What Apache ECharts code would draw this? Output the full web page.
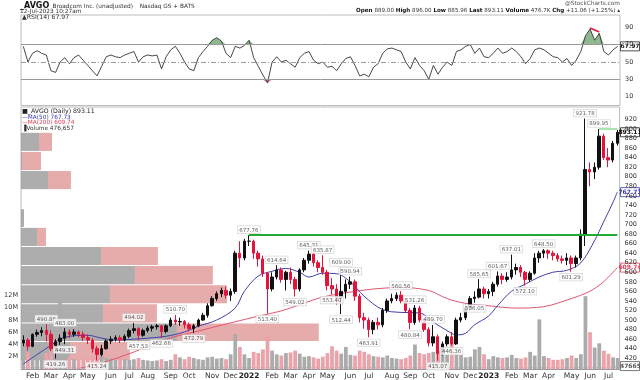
<!DOCTYPE html>
<html>
<head>
<meta charset="utf-8">
<script src="https://cdn.jsdelivr.net/npm/echarts@6/dist/echarts.min.js"></script>
<style>
html,body{margin:0;padding:0;background:#fff;}
#chart{width:640px;height:380px;}
</style>
</head>
<body>
<div id="chart"></div>
<script>
// ================= DATA =================
// Weekly categories (Mondays) 2021-01-18 .. 2023-07-10
const weekCount = 130;
const weeks = [];
for (let i = 0; i < weekCount; i++) {
  weeks.push(new Date(Date.UTC(2021, 0, 18 + 7 * i)).toISOString().slice(0, 10));
}
const monthNames = ['Jan','Feb','Mar','Apr','May','Jun','Jul','Aug','Sep','Oct','Nov','Dec'];

const opens = [
  452,458,445,470,474,478,470,440,455,462,475,470,475,470,463,458,440,428,440,456,
  460,463,458,466,478,482,468,478,483,486,488,476,488,500,496,497,490,482,488,500,
  510,530,545,555,562,552,560,640,630,665,
  665,640,628,598,565,590,605,585,600,585,565,605,625,638,620,610,600,572,565,545,
  560,575,580,550,505,500,480,495,490,520,540,545,552,540,520,495,525,500,480,452,
  465,430,450,465,450,500,505,525,545,548,565,555,
  560,575,592,585,590,605,610,600,585,598,630,640,645,640,635,628,625,630,618,630,
  680,815,810,820,885,840,835,870
];
const closes = [
  458,445,470,474,478,470,440,455,462,475,470,475,470,463,458,440,428,440,456,460,
  463,458,466,478,482,468,478,483,486,488,476,488,500,496,497,490,482,488,500,510,
  530,545,555,562,552,560,640,630,665,665,
  640,628,598,565,590,605,585,600,585,565,605,625,638,620,610,600,572,565,545,560,
  575,580,550,505,500,480,495,490,520,540,545,552,540,520,495,525,500,480,452,465,
  430,450,465,450,500,505,525,545,548,565,555,560,
  575,592,585,590,605,610,600,585,598,630,640,645,640,635,628,625,630,618,630,680,
  815,810,820,885,840,835,870,893.11
];
const lows = [
  445,436,443,465,466,455,435,419.26,448,449.31,462,465,464,456,450,432,415.24,424,438,450,
  455,452,455,462,472,457.53,465,474,476,480,462.66,472,485,490,488,482,476,472.79,485,498,
  505,528,540,548,545,540,555,610,625,655,
  628,612,590,513.40,560,585,578,562,575,549.02,560,600,618,612,600,595,562,553.40,532,512.44,
  545,565,540,495,482,463.91,470,480,485,515,535,540,535,515,480.84,490,495,475,445,445,
  415.07,425,445,446.36,448,495,500,520,536.05,545,545,545,
  550,570,575,580,585,595,590,572.10,580,595,620,630,628,625,622,618,615,601.29,610,625,
  655,780,795,815,835,820,830,865
];
const highs = [
  468,462,472,480,485,490.86,478,460,470,483.00,480,481,478,476,470,462,446,448,460,466,
  468,468,470,482,494.02,485,482,488,490,492,490,491,505,510.70,505,500,495,492,503,515,
  535,550,560,568,570,566,645,665,670,677.76,
  668,645,635,600,600,614.64,610,603,610,590,608,630,645.31,642,625,635.87,605,588,575,609.00,
  585,590.94,585,555,515,505,500,505,525,545,555,558,560.56,545,525,531.26,530,505,485,489.70,
  470,455,470,475,505,515,530,550,560,585.65,570,565,
  580,601.67,598,600,637.01,618,615,603,602,640,645,648.50,648,645,640,635,640,635,635,690,
  921.78,830,830,899.95,890,860,875,898
];
// Typical daily volume during each week, millions of shares
const volumes = [
  2.2,2.8,2.0,1.8,1.9,2.6,3.0,2.8,11.0,2.6,2.0,1.6,1.5,1.6,1.8,2.0,2.6,2.2,1.8,1.7,
  1.5,2.1,1.6,1.5,1.6,1.8,1.5,1.4,1.3,1.4,1.6,1.3,1.5,2.4,1.9,1.6,2.0,1.8,1.6,1.5,
  1.9,2.0,1.7,1.8,1.6,2.4,5.7,3.6,2.4,1.8,
  2.8,2.6,3.2,5.4,3.0,2.4,2.2,2.6,2.7,3.0,2.5,2.0,2.1,1.9,1.7,2.0,2.6,3.7,3.0,2.5,
  3.6,2.3,2.2,3.0,2.8,2.4,2.1,2.0,1.9,2.2,1.8,1.7,1.6,1.8,2.2,4.0,2.6,2.4,2.6,2.8,
  3.0,2.6,2.4,4.9,2.8,2.3,1.9,2.0,3.2,3.6,2.4,1.6,
  2.1,1.9,1.8,1.9,2.3,1.8,1.7,1.9,2.8,2.2,8.1,2.1,1.8,1.5,1.5,1.6,1.8,2.2,1.8,2.4,
  11.9,6.0,3.5,4.2,3.0,2.5,1.9,1.8
];
const lastVolume = 476657;
const rsi = [
  68,50,60,63,60,58,40,38,50,55,48,55,58,52,46,40,34,45,56,58,
  56,55,58,60,62,50,56,58,57,58,42,56,64,68,60,50,42,40,55,62,
  68,75,78,74,60,55,68,66,69,75,
  55,45,35,26,50,56,50,52,48,44,55,60,62,52,48,50,44,45,40,48,
  54,56,46,34,36,33,44,48,60,65,66,64,62,50,42,55,46,40,30,46,
  36,44,50,46,62,64,68,70,60,66,56,55,
  60,66,60,62,66,62,56,48,54,64,66,64,60,56,55,50,54,46,52,62,
  80,88,75,83,62,58,64,67.97
];
const rsiDivergence = [['2023-05-29', 89], ['2023-06-12', 84.5]];

const ma50 = [
  ['2021-01-18',408],['2021-03-01',447],['2021-03-22',464],['2021-04-26',468],['2021-05-17',462],
  ['2021-06-07',458],['2021-07-05',460],['2021-07-26',462],['2021-08-23',466],['2021-09-20',475],
  ['2021-10-11',487],['2021-11-08',500],['2021-12-06',525],['2021-12-20',560],['2022-01-10',592],
  ['2022-01-31',602],['2022-02-21',608],['2022-03-14',600],['2022-03-28',590],['2022-04-18',598],
  ['2022-05-09',597],['2022-05-30',580],['2022-06-20',550],['2022-07-18',522],['2022-08-15',516],
  ['2022-09-12',515],['2022-10-03',496],['2022-10-24',478],['2022-11-07',469],['2022-11-21',472],
  ['2022-12-05',490],['2022-12-26',508],['2023-01-09',530],['2023-01-30',560],['2023-02-20',575],
  ['2023-03-13',590],['2023-04-03',600],['2023-04-24',604],['2023-05-15',619],['2023-06-05',665],
  ['2023-06-19',705],['2023-07-03',745],['2023-07-10',767.73]
];
const ma200 = [
  ['2021-04-05',396],['2021-05-17',410],['2021-07-05',433],['2021-08-23',460],['2021-10-11',477],
  ['2021-11-29',494],['2022-01-10',508],['2022-02-14',519],['2022-03-14',532],['2022-04-18',548],
  ['2022-05-23',557],['2022-07-04',565],['2022-08-15',568],['2022-09-26',562],['2022-10-24',545],
  ['2022-11-21',535],['2022-12-26',530],['2023-02-06',525],['2023-03-20',528],['2023-05-01',545],
  ['2023-05-29',560],['2023-06-19',580],['2023-07-10',609.74]
];
// Price annotations: [week, price, side]
const annotations = [
  ['2021-02-22',490.86,'top'],['2021-03-08',419.26,'bottom'],['2021-03-22',483.00,'top'],['2021-03-22',449.31,'bottom'],
  ['2021-05-10',415.24,'bottom'],['2021-07-05',494.02,'top'],['2021-07-12',457.53,'bottom'],['2021-08-16',462.66,'bottom'],
  ['2021-09-06',510.70,'top'],['2021-10-04',472.79,'bottom'],['2021-12-27',677.76,'top'],['2022-01-24',513.40,'bottom'],
  ['2022-02-07',614.64,'top'],['2022-03-07',549.02,'bottom'],['2022-03-28',645.31,'top'],['2022-04-18',635.87,'top'],
  ['2022-05-02',553.40,'bottom'],['2022-05-16',609.00,'top'],['2022-05-16',512.44,'bottom'],['2022-05-30',590.94,'top'],
  ['2022-06-27',463.91,'bottom'],['2022-08-15',560.56,'top'],['2022-08-29',480.84,'bottom'],['2022-09-05',531.26,'top'],
  ['2022-10-03',489.70,'top'],['2022-10-10',415.07,'bottom'],['2022-10-31',446.36,'bottom'],['2022-12-05',536.05,'bottom'],
  ['2022-12-12',585.65,'top'],['2023-01-09',601.67,'top'],['2023-01-30',637.01,'top'],['2023-02-20',572.10,'bottom'],
  ['2023-03-20',648.50,'top'],['2023-05-01',601.29,'bottom'],['2023-05-22',921.78,'top'],['2023-06-12',899.95,'top']
];
// Horizontal trend lines: [from week, to week, price]
const trendLines = [['2021-12-27','2023-07-10',677.76]];
const resistLines = [['2023-06-12','2023-07-10',899.95]];
// Volume by price zones (price edges) and up / down volume (relative units)
const vbpEdges = [415,455,494,534,574,614,654,694,733,773,813,853,893];
const vbpUp   = [49,156,82,89,114,80,16,3,0,27,1,18];
const vbpDown = [60,142,54,117,78,57,9,0,0,23,19,13];
const header = {
  symbol:'_AVGO', name:'Broadcom Inc. (unadjusted)', exch:'Nasdaq GS + BATS', date:'12-Jul-2023 10:27am',
  open:'889.00', high:'896.00', low:'885.96', last:'893.11', volume:'476.7K', chg:'+11.06 (+1.25%)'
};

// ================= CHART =================
const FONT = 'DejaVu Sans';
const chart = echarts.init(document.getElementById('chart'), null, {renderer:'canvas'});

function weekMonthLabel(w) {
  const d = new Date(w + 'T00:00:00Z');
  const e = new Date(d.getTime() + 6 * 864e5);
  if (d.getUTCDate() === 1 || e.getUTCMonth() !== d.getUTCMonth()) {
    return e.getUTCMonth() === 0 ? String(e.getUTCFullYear()) : monthNames[e.getUTCMonth()];
  }
  return null;
}

const candleData = weeks.map((w, i) => [opens[i], closes[i], lows[i], highs[i]]);
const volData = weeks.map((w, i) => ({
  value: volumes[i],
  itemStyle: {color: closes[i] >= opens[i] ? '#ababab' : '#eaa3ab'}
}));
const vbpData = vbpUp.map((u, i) => [vbpEdges[i], vbpEdges[i + 1], u, vbpDown[i]]);
const rsiHigh = rsi.map(v => Math.max(v, 70));
const rsiLow = rsi.map(v => Math.min(v, 30));

const option = {
  animation: false,
  backgroundColor: '#fff',
  textStyle: {fontFamily: FONT},
  grid: [
    {left: 21, right: 20, top: 15, height: 90.5, show: true, borderColor: '#bdbdbd', borderWidth: 1},
    {left: 21, right: 20, top: 107, height: 260.8, show: true, borderColor: '#bdbdbd', borderWidth: 1},
    {left: 21, right: 20, top: 107, bottom: 10}
  ],
  xAxis: [
    {type: 'category', gridIndex: 0, data: weeks, show: false},
    {type: 'category', gridIndex: 1, data: weeks, show: false},
    {type: 'value', gridIndex: 1, min: 0, max: 599, show: false},
    {type: 'category', gridIndex: 2, data: weeks,
      axisLine: {show: true, lineStyle: {color: '#999', width: 1}},
      axisTick: {show: false},
      axisLabel: {
        fontSize: 7.5, color: '#333', margin: 3, fontFamily: FONT,
        interval: (idx, val) => idx > 0 && weekMonthLabel(val) !== null,
        formatter: (val) => {
          const t = weekMonthLabel(val);
          if (!t) return '';
          return /^\d{4}$/.test(t) ? '{y|' + t + '}' : t;
        },
        rich: {y: {fontWeight: 'bold', fontSize: 7.5, color: '#222', fontFamily: FONT}}
      }
    }
  ],
  yAxis: [
    {type: 'value', gridIndex: 0, position: 'right', min: 0, max: 104, interval: 10,
      splitLine: {show: false}, axisLine: {show: false}, axisTick: {show: false},
      axisLabel: {fontSize: 6.5, color: '#333', margin: 5,
        formatter: v => (Math.round(v) % 20 === 10 ? String(Math.round(v)) : '')}},
    {type: 'value', gridIndex: 1, position: 'right', min: 400, max: 946, interval: 20,
      splitLine: {show: false}, axisLine: {show: false}, axisTick: {show: false},
      axisLabel: {fontSize: 6.5, color: '#333', margin: 5,
        formatter: v => (v >= 420 && v <= 920 ? String(Math.round(v)) : '')}},
    {type: 'value', gridIndex: 2, position: 'left', min: 0, max: 42.8, interval: 2,
      splitLine: {show: false}, axisLine: {show: false}, axisTick: {show: false},
      axisLabel: {fontSize: 6.5, color: '#333', margin: 3,
        formatter: v => { const r = Math.round(v); return (r >= 2 && r <= 12) ? r + 'M' : ''; }}}
  ],
  series: [
    // Volume by price
    {type: 'custom', xAxisIndex: 2, yAxisIndex: 1, z: 1, silent: true,
      data: vbpData,
      encode: {x: [2, 3], y: [0, 1]},
      renderItem: (params, api) => {
        const lo = api.value(0), hi = api.value(1), up = api.value(2), dn = api.value(3);
        const a = api.coord([0, hi]);
        const b = api.coord([up, lo]);
        const c = api.coord([up + dn, lo]);
        const y = a[1] + 0.5, h = b[1] - a[1] - 1;
        return {type: 'group', children: [
          {type: 'rect', shape: {x: a[0], y: y, width: b[0] - a[0], height: h}, style: {fill: 'rgba(150,150,150,0.78)'}},
          {type: 'rect', shape: {x: b[0], y: y, width: c[0] - b[0], height: h}, style: {fill: 'rgba(214,120,120,0.62)'}}
        ]};
      }
    },
    // Volume
    {type: 'bar', xAxisIndex: 3, yAxisIndex: 2, z: 2, data: volData, barWidth: '82%', silent: true},
    // MA200 / MA50
    {type: 'line', xAxisIndex: 1, yAxisIndex: 1, z: 3, data: ma200, smooth: 0.35, symbol: 'none',
      lineStyle: {color: '#e05570', width: 1}, silent: true},
    {type: 'line', xAxisIndex: 1, yAxisIndex: 1, z: 3, data: ma50, smooth: 0.35, symbol: 'none',
      lineStyle: {color: '#4040b0', width: 1}, silent: true},
    // Candles
    {type: 'candlestick', xAxisIndex: 1, yAxisIndex: 1, z: 4, data: candleData, barWidth: 3,
      itemStyle: {color: '#111', color0: '#e3143c', borderColor: '#111', borderColor0: '#e3143c', borderWidth: 1},
      markLine: {silent: true, symbol: 'none', label: {show: false},
        data: [
          ...trendLines.map(t => [{coord: [t[0], t[2]], lineStyle: {color: '#22aa33', width: 2, type: 'solid'}}, {coord: [t[1], t[2]]}]),
          ...resistLines.map(t => [{coord: [t[0], t[2]], lineStyle: {color: '#90dd90', width: 1.5, type: 'solid'}}, {coord: [t[1], t[2]]}])
        ]}
    },
    // Annotations
    {type: 'scatter', xAxisIndex: 1, yAxisIndex: 1, z: 6, symbolSize: 0, silent: true,
      data: annotations.map(a => ({
        value: [a[0], a[1]],
        label: {show: true, position: a[2], distance: 2, formatter: a[1].toFixed(2),
          fontSize: 5.5, color: '#333', backgroundColor: '#fff', borderColor: '#c8c8c8', borderWidth: 0.6,
          padding: [1, 1.5, 0, 1.5], fontFamily: FONT}
      }))
    },
    // RSI fills
    {type: 'line', xAxisIndex: 0, yAxisIndex: 0, z: 2, data: rsiHigh, symbol: 'none', silent: true,
      lineStyle: {width: 0, opacity: 0}, areaStyle: {origin: 70, color: '#5f9a5f'}},
    {type: 'line', xAxisIndex: 0, yAxisIndex: 0, z: 2, data: rsiLow, symbol: 'none', silent: true,
      lineStyle: {width: 0, opacity: 0}, areaStyle: {origin: 30, color: '#d05060'}},
    // RSI
    {type: 'line', xAxisIndex: 0, yAxisIndex: 0, z: 3, data: rsi, symbol: 'none', silent: true,
      lineStyle: {color: '#333', width: 0.9},
      markLine: {silent: true, symbol: 'none', label: {show: false},
        data: [
          {yAxis: 70, lineStyle: {color: '#9a9a9a', width: 1, type: 'solid'}},
          {yAxis: 50, lineStyle: {color: '#9a9a9a', width: 1, type: [5, 2, 1, 2]}},
          {yAxis: 30, lineStyle: {color: '#9a9a9a', width: 1, type: 'solid'}},
          [{coord: rsiDivergence[0], lineStyle: {color: '#e8143c', width: 1.5, type: 'solid'}}, {coord: rsiDivergence[1]}]
        ]}
    }
  ]
};
chart.setOption(option);

// ---------- text & value tags ----------
const ma50Last = ma50[ma50.length - 1][1];
const ma200Last = ma200[ma200.length - 1][1];
const lastClose = closes[closes.length - 1];
const rsiLast = rsi[rsi.length - 1];
const graphics = [
  {type: 'text', left: 20, top: 0, style: {
    text: '{t|' + header.symbol + '} {n|' + header.name + '}  {n|' + header.exch + '}',
    rich: {t: {fontSize: 8, fontWeight: 'bold', fill: '#111', fontFamily: FONT},
           n: {fontSize: 5.8, fill: '#333', fontFamily: FONT}}}},
  {type: 'text', left: 20, top: 8.5, style: {text: header.date, fontSize: 5.8, fill: '#333', fontFamily: FONT}},
  {type: 'text', left: 22, top: 14.5, style: {text: '\u25B2RSI(14) ' + rsiLast.toFixed(2), fontSize: 6.2, fill: '#333', fontFamily: FONT}},
  {type: 'text', right: 20, top: 0.5, style: {text: '@StockCharts.com', fontSize: 5.8, fill: '#555', fontFamily: FONT}},
  {type: 'text', right: 20, top: 8, style: {
    text: '{b|Open} ' + header.open + ' {b|High} ' + header.high + ' {b|Low} ' + header.low + ' {b|Last} ' + header.last +
          ' {b|Volume} ' + header.volume + ' {b|Chg} ' + header.chg + ' \u25B4',
    fontSize: 5.6, fill: '#333', fontFamily: FONT,
    rich: {b: {fontSize: 5.6, fontWeight: 'bold', fill: '#111', fontFamily: FONT}}}},
  {type: 'text', left: 22, top: 108, style: {text: '\u25A0' + header.symbol + ' (Daily) ' + lastClose.toFixed(2), fontSize: 6.2, fill: '#222', fontFamily: FONT}},
  {type: 'text', left: 22, top: 114, style: {text: '\u2014MA(50) ' + ma50Last.toFixed(2), fontSize: 5.8, fill: '#3a3ab0', fontFamily: FONT}},
  {type: 'text', left: 22, top: 119.5, style: {text: '\u2014MA(200) ' + ma200Last.toFixed(2), fontSize: 5.8, fill: '#e0405a', fontFamily: FONT}},
  {type: 'text', left: 22, top: 125, style: {text: '\u2590Volume ' + lastVolume.toLocaleString('en-US'), fontSize: 5.8, fill: '#333', fontFamily: FONT}}
];
function tag(axisIndex, value, text, color, fill) {
  const py = chart.convertToPixel({yAxisIndex: axisIndex}, value);
  return {type: 'group', x: 620.5, y: py - 4.5, z: 100, children: [
    {type: 'rect', shape: {x: 0, y: 0, width: 19, height: 9}, style: {fill: fill || '#fff', stroke: color, lineWidth: 0.8}},
    {type: 'text', style: {x: 9.5, y: 4.8, text: text, fill: color, fontSize: 6, fontWeight: 'bold', fontFamily: FONT, align: 'center', verticalAlign: 'middle'}}
  ]};
}
graphics.push(tag(0, rsiLast, rsiLast.toFixed(2), '#222'));
graphics.push(tag(1, lastClose, lastClose.toFixed(2), '#111', '#fff'));
graphics.push(tag(1, ma50Last, ma50Last.toFixed(2), '#3a3ab0'));
graphics.push(tag(1, ma200Last, ma200Last.toFixed(2), '#e0405a'));
graphics.push(tag(2, lastVolume / 1e6, '<' + String(lastVolume), '#555'));
chart.setOption({graphic: graphics});
</script>
</body>
</html>
